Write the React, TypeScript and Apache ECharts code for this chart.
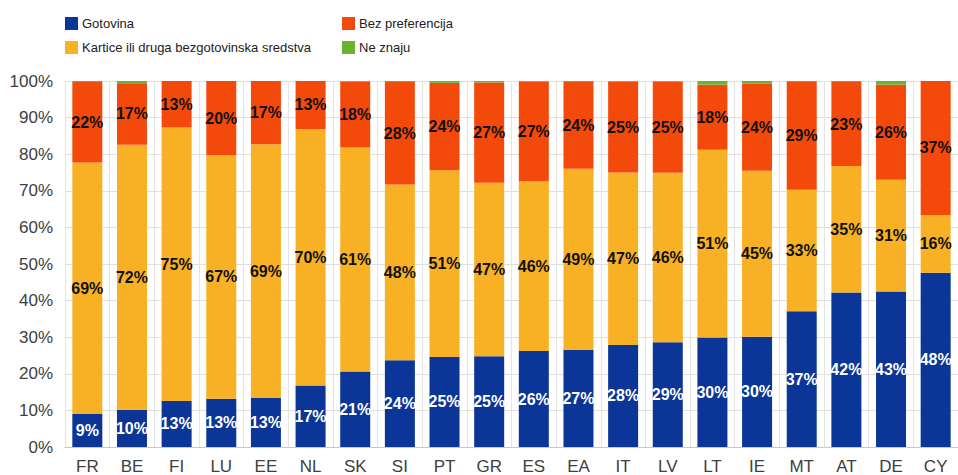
import React, { useEffect, useRef } from "react";
import * as echarts from "echarts";

const categories = ["FR", "BE", "FI", "LU", "EE", "NL", "SK", "SI", "PT", "GR", "ES", "EA", "IT", "LV", "LT", "IE", "MT", "AT", "DE", "CY"];
const gotovina = [9.0, 10.2, 12.6, 13.2, 13.4, 16.8, 20.6, 23.7, 24.6, 24.8, 26.2, 26.6, 27.9, 28.6, 29.9, 30.1, 37.1, 42.2, 42.5, 47.6];
const kartice = [68.7, 72.4, 74.7, 66.5, 69.3, 70.1, 61.2, 48.0, 51.0, 47.4, 46.4, 49.4, 47.1, 46.3, 51.3, 45.4, 33.2, 34.6, 30.5, 15.8];
const bezPref = [22.0, 16.8, 12.7, 20.3, 17.3, 13.1, 18.0, 28.0, 23.9, 27.4, 27.2, 23.7, 24.8, 24.9, 17.8, 23.8, 29.4, 22.9, 26.0, 36.6];
const neZnaju = [0.3, 0.6, 0.0, 0.0, 0.0, 0.0, 0.2, 0.3, 0.5, 0.4, 0.2, 0.3, 0.2, 0.2, 1.0, 0.7, 0.3, 0.3, 1.0, 0.0];
const yTicks = [0, 10, 20, 30, 40, 50, 60, 70, 80, 90, 100];

const seriesNames = ["Gotovina", "Kartice ili druga bezgotovinska sredstva", "Bez preferencija", "Ne znaju"];
const colors = ["#0b3596", "#f8b124", "#f34a0c", "#6ab42d"];

export default function App() {
  const ref = useRef<HTMLDivElement>(null);
  useEffect(() => {
    if (!ref.current) return;
    const chart = echarts.init(ref.current, undefined, { renderer: "svg" });
    const fmt = (p: any) => Math.round(p.value) + "%";
    const labelBase = {
      show: true,
      position: "inside" as const,
      fontFamily: "Liberation Sans, Arial, sans-serif",
      fontSize: 16,
      fontWeight: "bold" as const,
      formatter: fmt,
    };
    const legendCommon = {
      orient: "horizontal" as const,
      icon: "rect",
      itemWidth: 13,
      itemHeight: 13,
      itemGap: 5,
      padding: 0,
      selectedMode: false,
      textStyle: { fontFamily: "Liberation Sans, Arial, sans-serif", fontSize: 13, color: "#222", padding: [0, 0, 0, -1] },
    };
    chart.setOption({
      animation: false,
      color: colors,
      legend: [
        { ...legendCommon, data: [seriesNames[0]], left: 65, top: 17 },
        { ...legendCommon, data: [seriesNames[2]], left: 342, top: 17 },
        { ...legendCommon, data: [seriesNames[1]], left: 65, top: 41 },
        { ...legendCommon, data: [seriesNames[3]], left: 342, top: 41 },
      ],
      grid: { left: 65, top: 81, bottom: 27, right: -7, containLabel: false },
      xAxis: {
        type: "category",
        data: categories,
        axisTick: { show: false },
        axisLine: { show: true, lineStyle: { color: "#c8c8c8", width: 1 } },
        axisLabel: { fontFamily: "Liberation Sans, Arial, sans-serif", fontSize: 17, color: "#404040", margin: 11 },
        splitLine: { show: true, interval: 0, lineStyle: { color: "#e4e4e4", width: 1 } },
      },
      yAxis: {
        type: "value",
        min: yTicks[0],
        max: yTicks[yTicks.length - 1],
        interval: 10,
        axisLine: { show: false },
        axisTick: { show: false },
        axisLabel: { formatter: "{value}%", fontFamily: "Liberation Sans, Arial, sans-serif", fontSize: 17, color: "#404040", margin: 12 },
        splitLine: { show: true, lineStyle: { color: "#e0e0e0", width: 1 } },
      },
      series: [
        { name: seriesNames[0], type: "bar", stack: "s", data: gotovina, barWidth: 30, label: { ...labelBase, color: "#ffffff" } },
        { name: seriesNames[1], type: "bar", stack: "s", data: kartice, barWidth: 30, label: { ...labelBase, color: "#111111" } },
        { name: seriesNames[2], type: "bar", stack: "s", data: bezPref, barWidth: 30, label: { ...labelBase, color: "#111111" } },
        { name: seriesNames[3], type: "bar", stack: "s", data: neZnaju, barWidth: 30, label: { show: false } },
      ],
    });
    return () => chart.dispose();
  }, []);
  return (
    <div
      ref={ref}
      style={{ position: "absolute", left: 0, top: 0, width: 958, height: 475, background: "#ffffff" }}
    />
  );
}
